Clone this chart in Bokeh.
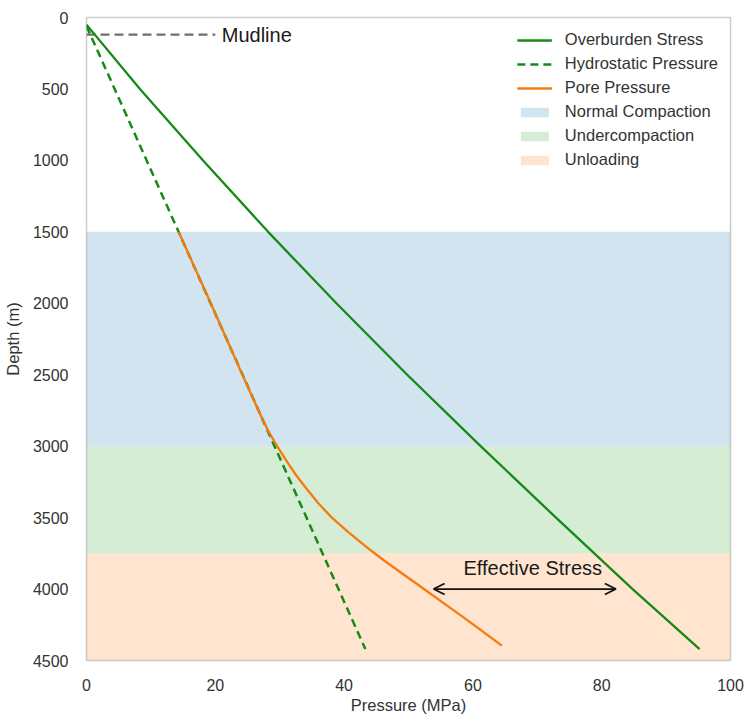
from bokeh.plotting import figure
from bokeh.models import Range1d, FixedTicker, Legend, LegendItem, Arrow, OpenHead, Label
from bokeh.embed import file_html
from bokeh.resources import INLINE

# ---- data ----
overburden_pressure = [0.0, 8.3, 18.1, 28.2, 38.8, 49.8, 61.2, 72.9, 84.8, 95.2]
overburden_depth = [50, 500, 1000, 1500, 2000, 2500, 3000, 3500, 4000, 4420]

hydro_pressure = [0.0, 43.3]
hydro_depth = [60, 4420]

pore_pressure = [14.3, 19.3, 24.2, 26.7, 28.3, 29.6, 31.0, 32.5, 34.2, 36.0, 38.1,
                 40.6, 43.3, 46.2, 49.3, 52.4, 55.5, 58.6, 61.6, 64.5]
pore_depth = [1500, 2000, 2500, 2750, 2900, 3000, 3100, 3200, 3300, 3400, 3500,
              3600, 3700, 3800, 3900, 4000, 4100, 4200, 4300, 4396]

band_names = ["Normal Compaction", "Undercompaction", "Unloading"]
band_top = [1500, 3000, 3750]
band_bottom = [3000, 3750, 4500]
band_colors = ["#1f77b4", "#2ca02c", "#ff7f0e"]

mudline_depth = 120
mudline_extent = [0, 20]

eff_depth = 4000
eff_span = [53.9, 82.2]
eff_label_pos = [69.3, 3850]

x_ticks = [0, 20, 40, 60, 80, 100]
y_ticks = [0, 500, 1000, 1500, 2000, 2500, 3000, 3500, 4000, 4500]

FONT = "Liberation Sans"

p = figure(width=744, height=716, output_backend="svg", toolbar_location=None,
           x_range=Range1d(0, 100), y_range=Range1d(4500, 0),
           min_border_left=86, min_border_right=14, min_border_top=17, min_border_bottom=53)

p.background_fill_color = "white"
p.border_fill_color = "white"
p.outline_line_color = "#cccccc"
p.outline_line_width = 1.5
p.xgrid.visible = False
p.ygrid.visible = False

for ax in (p.xaxis[0], p.yaxis[0]):
    ax.axis_line_color = None
    ax.major_tick_line_color = None
    ax.minor_tick_line_color = None
    ax.major_label_text_font = FONT
    ax.major_label_text_font_size = "16px"
    ax.major_label_text_color = "#333333"
    ax.axis_label_text_font = FONT
    ax.axis_label_text_font_size = "16.5px"
    ax.axis_label_text_font_style = "normal"
    ax.axis_label_text_color = "#333333"
    ax.major_label_standoff = 12

p.xaxis.ticker = FixedTicker(ticks=x_ticks)
p.yaxis.ticker = FixedTicker(ticks=y_ticks)
p.xaxis.axis_label = "Pressure (MPa)"
p.yaxis.axis_label = "Depth (m)"
p.xaxis.axis_label_standoff = 2
p.yaxis.axis_label_standoff = 8

band_renderers = []
for name, t, b, c in zip(band_names, band_top, band_bottom, band_colors):
    r = p.quad(left=x_ticks[0], right=x_ticks[-1], top=t, bottom=b,
               fill_color=c, fill_alpha=0.2, line_color=None)
    band_renderers.append(r)

mud = p.line(mudline_extent, [mudline_depth, mudline_depth], line_color="#6e6e6e",
             line_width=2.2, line_dash="9 5")

r_over = p.line(overburden_pressure, overburden_depth, line_color="#168a16", line_width=2.3,
                line_join="round")
r_hydro = p.line(hydro_pressure, hydro_depth, line_color="#168a16", line_width=2.5, line_dash="8 5")
r_pore = p.line(pore_pressure, pore_depth, line_color="#f57a10", line_width=2.3,
                line_join="round")

p.add_layout(Arrow(start=OpenHead(size=11, line_width=1.8, line_color="#111111"),
                   end=OpenHead(size=11, line_width=1.8, line_color="#111111"),
                   x_start=eff_span[0], y_start=eff_depth, x_end=eff_span[1], y_end=eff_depth,
                   line_width=1.8, line_color="#111111"))

p.add_layout(Label(x=eff_label_pos[0], y=eff_label_pos[1], text="Effective Stress",
                   text_align="center", text_baseline="middle", text_font=FONT,
                   text_font_size="20px", text_color="#1a1a1a"))
p.add_layout(Label(x=mudline_extent[1] + 1, y=mudline_depth, text="Mudline",
                   text_align="left", text_baseline="middle", text_font=FONT,
                   text_font_size="20px", text_color="#1a1a1a"))

items = [
    LegendItem(label="Overburden Stress", renderers=[r_over]),
    LegendItem(label="Hydrostatic Pressure", renderers=[r_hydro]),
    LegendItem(label="Pore Pressure", renderers=[r_pore]),
] + [LegendItem(label=n, renderers=[r]) for n, r in zip(band_names, band_renderers)]

legend = Legend(items=items, location="top_right", margin=12, padding=6,
                glyph_width=35, glyph_height=12, label_standoff=13, spacing=3,
                label_text_font=FONT, label_text_font_size="16.5px",
                label_text_color="#333333", label_height=21,
                background_fill_alpha=0, border_line_color=None)
p.add_layout(legend)

open("out.html", "w").write(file_html(p, INLINE))
